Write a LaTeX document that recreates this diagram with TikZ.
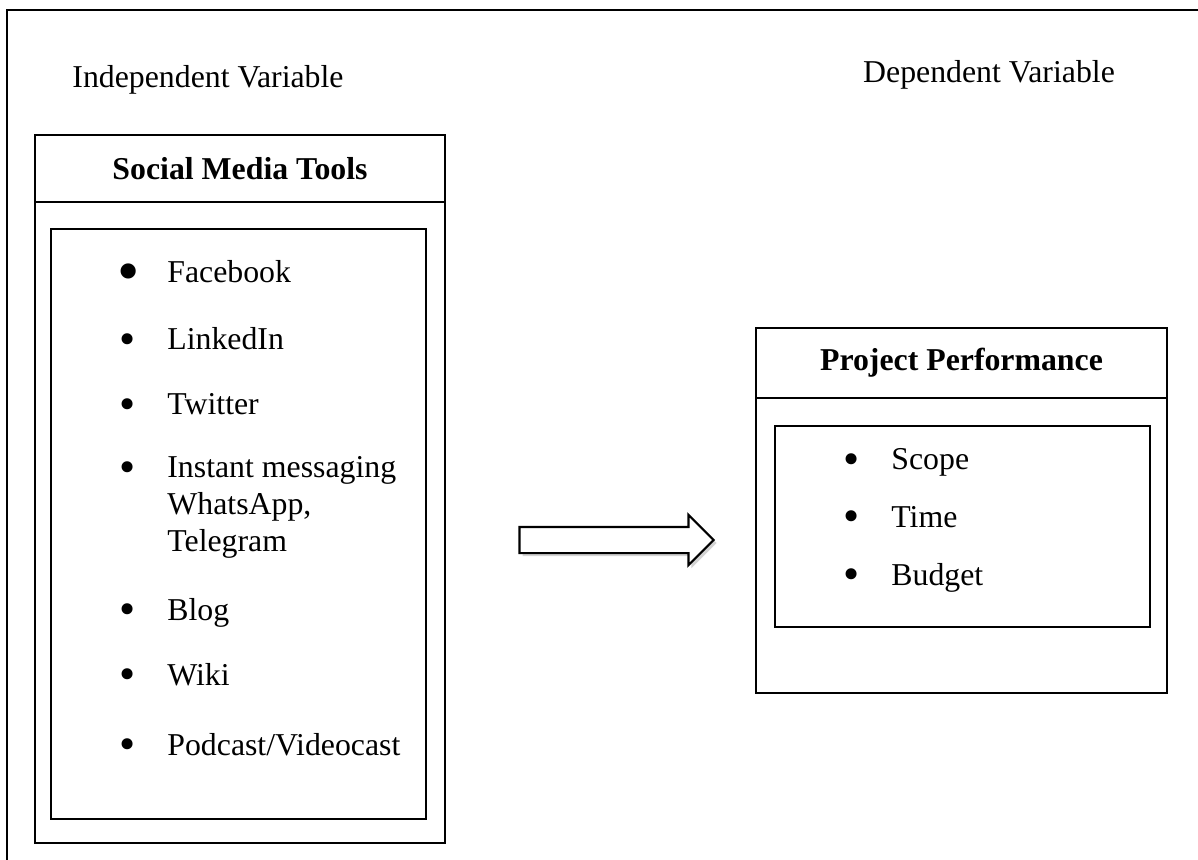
\documentclass[tikz,border=0pt]{standalone}
\usepackage{fontspec}
\setmainfont{Liberation Serif}
\usetikzlibrary{shapes.arrows,shadows,positioning}

% bullets for the lists
\newcommand{\itembullet}{\makebox[23pt][l]{\hspace*{-1pt}\raisebox{-2.3pt}{\scalebox{1.45}{\textbullet}}}}
\newcommand{\bigbullet}{\makebox[23pt][l]{\hspace*{-2pt}\raisebox{-5pt}{\scalebox{2}{\textbullet}}}}

\begin{document}
\begin{tikzpicture}[x=0.5pt, y=-0.5pt,
    % Define styles for the boxes and texts
    frame/.style={line width=1.2pt},
    varlabel/.style={font=\fontsize{15.9}{18.2}\selectfont, inner sep=0pt},
    outerbox/.style={draw, line width=1.4pt, inner sep=0pt},
    headbox/.style={draw, line width=1.4pt, inner sep=0pt, font=\fontsize{15.9}{18.2}\selectfont\bfseries},
    listbox/.style={draw, line width=1pt, inner sep=0pt},
    item/.style={anchor=base west, inner sep=0pt, font=\fontsize{15.9}{18.2}\selectfont},
    blockarrow/.style={draw, line width=1.1pt, fill=white, single arrow, single arrow head extend=6pt,
        inner sep=6pt, minimum width=24pt, minimum height=97pt,
        drop shadow={shadow xshift=1.5pt, shadow yshift=-1.5pt, opacity=0.35}}
]

\useasboundingbox (0,0) rectangle (1198,860);

% Page frame (cut at right and bottom)
\draw[frame] (7,860) -- (7,10) -- (1198,10);

% Variable titles
\node[varlabel] (indep) at (208,80) {Independent Variable};
\node[varlabel] (dep) at (989,75) {Dependent Variable};

% Independent variable box
\node[outerbox, minimum width=205pt, minimum height=354pt] (tools) at (240,489) {};
\node[headbox, minimum width=205pt, minimum height=33.5pt, below=0pt of tools.north] (toolshead) {Social Media Tools};
\node[listbox, minimum width=187.5pt, minimum height=295pt] (toolslist) at (238.5,524) {};

% Social media items
\node[item] (fb) at (121,283) {\bigbullet Facebook};
\node[item] (li) at (121,350) {\itembullet LinkedIn};
\node[item] (tw) at (121,415) {\itembullet Twitter};
\node[item] (im) at (121,478) {\itembullet Instant messaging};
\node[item] (wa) at (167,514) {WhatsApp,};
\node[item] (tg) at (167,551) {Telegram};
\node[item] (blog) at (121,620) {\itembullet Blog};
\node[item] (wiki) at (121,685) {\itembullet Wiki};
\node[item] (pod) at (121,755) {\itembullet Podcast/Videocast};

% Dependent variable box
\node[outerbox, minimum width=205.5pt, minimum height=182.5pt] (perf) at (961.5,510.5) {};
\node[headbox, minimum width=205.5pt, minimum height=35pt, below=0pt of perf.north] (perfhead) {Project Performance};
\node[listbox, minimum width=187.5pt, minimum height=100.5pt] (perflist) at (962.5,526.5) {};

% Performance items
\node[item] (scope) at (845,470) {\itembullet Scope};
\node[item] (time) at (845,527) {\itembullet Time};
\node[item] (budget) at (845,585) {\itembullet Budget};

% Block arrow between the two boxes
\node[blockarrow] (link) at (610,540) {};

\end{tikzpicture}
\end{document}
